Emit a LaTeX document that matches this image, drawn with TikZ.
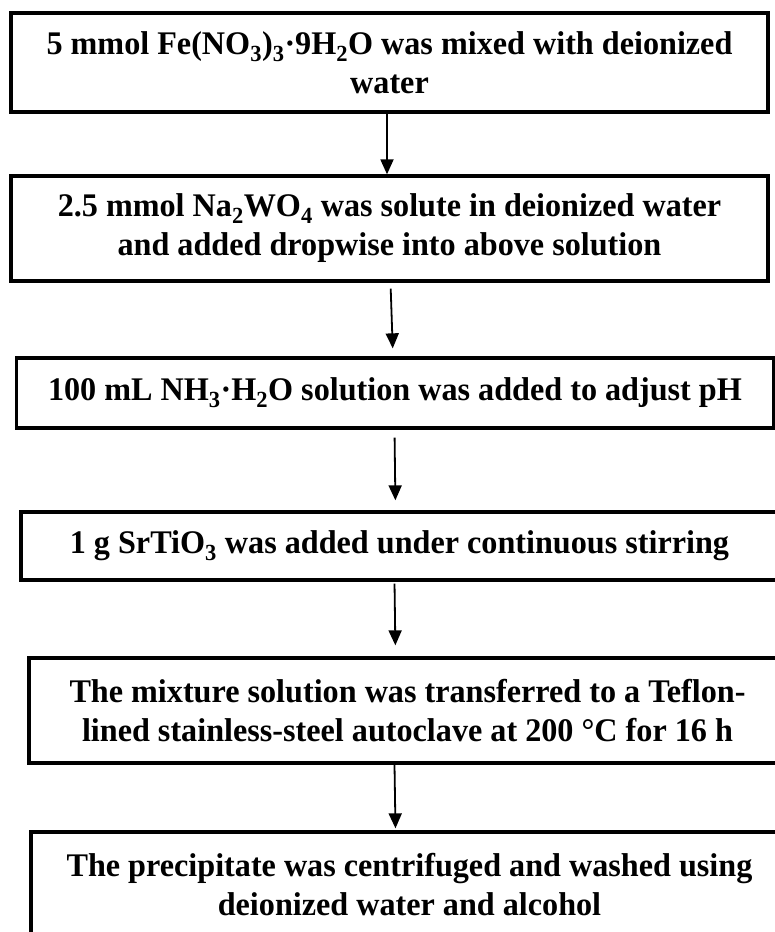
\documentclass[tikz,border=0pt]{standalone}
\usepackage{fontspec}
\setmainfont[FakeStretch=0.975]{Liberation Serif}
\usetikzlibrary{arrows.meta, positioning}

\tikzset{
  stepbox/.style={draw=black, line width=3.3pt, minimum width=757pt, inner sep=0pt,
    align=center, font=\fontsize{33}{39}\selectfont\bfseries},
  flowarrow/.style={line width=1.8pt, -{Triangle[length=15pt, width=13pt]}}
}

\begin{document}
\begin{tikzpicture}[x=1pt, y=1pt]
  \useasboundingbox (0,0) rectangle (775,932);
  \clip (0,0) rectangle (775,932);

  % synthesis steps
  \node[stepbox, minimum height=99pt] (mix) at (389.5,869.5)
    {5 mmol Fe(NO\textsubscript{3})\textsubscript{3}·9H\textsubscript{2}O was mixed with deionized\\water};
  \node[stepbox, minimum height=105pt] (tungstate) at (389.5,703.5)
    {2.5 mmol Na\textsubscript{2}WO\textsubscript{4} was solute in deionized water\\and added dropwise into above solution};
  \node[stepbox, minimum height=70pt] (ammonia) at (395,539)
    {100 mL NH\textsubscript{3}·H\textsubscript{2}O solution was added to adjust pH};
  \node[stepbox, minimum height=68pt] (srtio) at (399.5,386)
    {1 g SrTiO\textsubscript{3} was added under continuous stirring};
  \node[stepbox, minimum height=105pt] (autoclave) at (407.5,221.5)
    {The mixture solution was transferred to a Teflon-\\lined stainless-steel autoclave at 200 °C for 16 h};
  \node[stepbox, minimum height=105pt] (wash) at (409.5,47.5)
    {The precipitate was centrifuged and washed using\\deionized water and alcohol};

  % arrows
  \draw[flowarrow] ([xshift=-2.5pt]mix.south) -- ([xshift=-2.5pt]tungstate.north);
  \draw[flowarrow, shorten <=6pt, shorten >=8pt] ([xshift=1pt]tungstate.south) -- ([xshift=-2pt]ammonia.north);
  \draw[flowarrow, shorten <=8pt, shorten >=10pt] ([xshift=-0.5pt]ammonia.south) -- ([xshift=-4pt]srtio.north);
  \draw[flowarrow, shorten <=2pt, shorten >=11pt] ([xshift=-5pt]srtio.south) -- ([xshift=-12pt]autoclave.north);
  \draw[flowarrow, shorten >=2pt] ([xshift=-13pt]autoclave.south) -- ([xshift=-14pt]wash.north);
\end{tikzpicture}
\end{document}
